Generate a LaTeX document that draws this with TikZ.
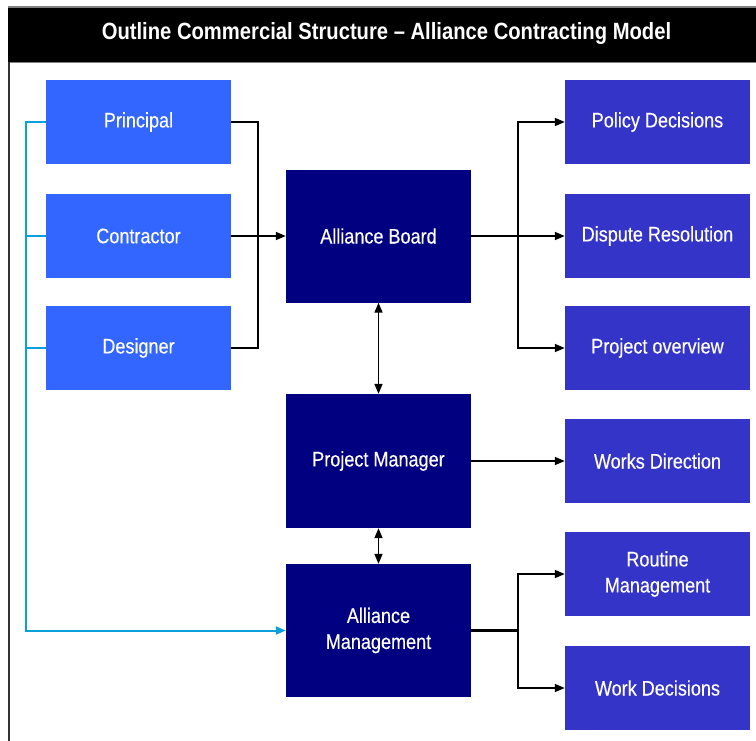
\documentclass[tikz,border=0pt]{standalone}
\usepackage{fontspec}
\setmainfont{Liberation Sans}[FakeStretch=0.86]
\newfontfamily\boxfont{Liberation Sans}[FakeStretch=0.86,FakeBold=0.35]
\usetikzlibrary{arrows.meta}
\definecolor{lblue}{HTML}{3366FF}
\definecolor{navy}{HTML}{000080}
\definecolor{rblue}{HTML}{3534C8}
\definecolor{cyanl}{HTML}{0AA0DC}
\begin{document}
\begin{tikzpicture}[x=1pt,y=-1pt,
  box/.style={inner sep=0pt,minimum width=185pt,text=white,align=center,font=\boxfont\fontsize{21}{26}\selectfont},
  lbox/.style={box,fill=lblue,minimum height=84pt},
  cbox/.style={box,fill=navy,minimum height=133pt},
  rbox/.style={box,fill=rblue,minimum height=84pt},
  conn/.style={draw=black,line width=1.6pt},
  arr/.style={conn,-{Triangle[length=10pt,width=8pt]}},
  darr/.style={conn,{Triangle[length=10pt,width=8pt]}-{Triangle[length=10pt,width=8pt]}},
  cyanline/.style={draw=cyanl,line width=2pt}
]
\useasboundingbox (0,0) rectangle (756,740);
\fill[white] (0,0) rectangle (756,740);
% title bar
\fill[black] (8,7) rectangle (757,63);
\draw[gray,line width=1.5pt] (8,7) -- (757,7);
\draw[gray,line width=1.5pt] (8,62.5) -- (757,62.5);
\draw[black!80,line width=1.8pt] (9,62) -- (9,741);
\node[text=white,font=\fontsize{23.5}{28}\selectfont\bfseries] (title) at (386.5,33) {Outline Commercial Structure – Alliance Contracting Model};
% left column
\node[lbox] (P) at (138.5,122) {Principal};
\node[lbox] (C) at (138.5,236) {Contractor};
\node[lbox] (D) at (138.5,348) {Designer};
% center column
\node[cbox] (AB) at (378.5,236) {Alliance Board};
\node[cbox,minimum height=134pt] (PM) at (378.5,461) {Project Manager};
\node[cbox] (AM) at (378.5,630.5) {Alliance\\Management};
% right column
\node[rbox] (PD) at (657.5,122) {Policy Decisions};
\node[rbox] (DR) at (657.5,236) {Dispute Resolution};
\node[rbox] (PO) at (657.5,348) {Project overview};
\node[rbox] (WD) at (657.5,461) {Works Direction};
\node[rbox] (RM) at (657.5,574) {Routine\\Management};
\node[rbox] (WK) at (657.5,688) {Work Decisions};
% bus coordinates
\coordinate (lb) at (258,236);
\coordinate (cb) at (26,630.5);
\coordinate (rb) at (518,236);
% left to board
\draw[conn] (P.east) -| (lb) |- (D.east);
\draw[arr] (C.east) -- (AB.west);
% cyan
\draw[cyanline,-{Triangle[length=10pt,width=8pt]}] (P.west) -| (cb) -- (AM.west);
\draw[cyanline] (C.west) -- (C.west -| cb);
\draw[cyanline] (D.west) -- (D.west -| cb);
% board to right
\draw[arr] (AB.east) -- (DR.west);
\draw[arr] (AB.east -| rb) |- (PD.west);
\draw[arr] (AB.east -| rb) |- (PO.west);
% vertical double arrows
\draw[darr] (AB.south) -- (PM.north);
\draw[darr] (PM.south) -- (AM.north);
% PM to works
\draw[arr] (PM.east) -- (WD.west);
% AM to right
\draw[conn,line width=2.4pt] (AM.east) -- (AM.east -| rb);
\draw[arr] (AM.east -| rb) |- (RM.west);
\draw[arr] (AM.east -| rb) |- (WK.west);
\end{tikzpicture}
\end{document}
